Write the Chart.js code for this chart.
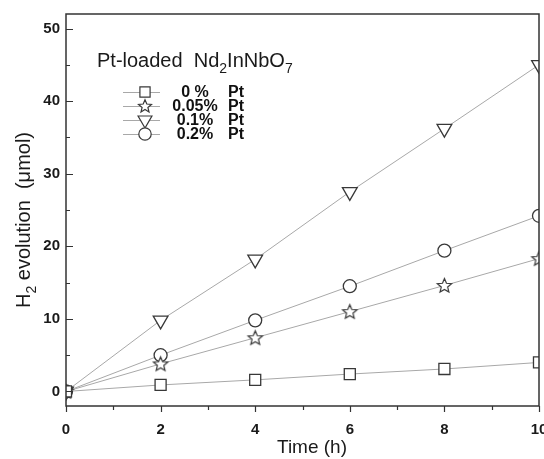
<!DOCTYPE html>
<html>
<head>
<meta charset="utf-8">
<script src="https://cdn.jsdelivr.net/npm/chart.js@4.4.1/dist/chart.umd.min.js"></script>
<style>
  html, body { margin: 0; padding: 0; background: #fff; }
  #wrap { width: 544px; height: 459px; position: relative; }
</style>
</head>
<body>
<div id="wrap"><canvas id="c" width="544" height="459"></canvas></div>
<script>
// ---- data ----
const times = [0, 2, 4, 6, 8, 10];
const pt0   = [0, 0.9, 1.6, 2.4, 3.1, 4.0];
const pt005 = [0, 3.8, 7.4, 11.0, 14.6, 18.3];
const pt01  = [0, 9.8, 18.2, 27.5, 36.2, 45.0];
const pt02  = [0, 5.0, 9.8, 14.5, 19.4, 24.2];
const seriesLabels = ['0 %', '0.05%', '0.1%', '0.2%'];
const xTickValues = [0, 2, 4, 6, 8, 10];
const yTickValues = [0, 10, 20, 30, 40, 50];

const MARK = '#383838';
const LINE = '#a8a8a8';

function starCanvas(R) {
  const s = Math.ceil(R * 2 + 4);
  const c = document.createElement('canvas');
  c.width = s; c.height = s;
  const g = c.getContext('2d');
  const cx = s / 2, cy = s / 2 + 0.5, r = R * 0.45;
  g.beginPath();
  for (let i = 0; i < 10; i++) {
    const a = -Math.PI / 2 + i * Math.PI / 5;
    const rr = i % 2 === 0 ? R : r;
    const px = cx + rr * Math.cos(a), py = cy + rr * Math.sin(a);
    if (i === 0) g.moveTo(px, py); else g.lineTo(px, py);
  }
  g.closePath();
  g.fillStyle = '#fff'; g.fill();
  g.strokeStyle = MARK; g.lineWidth = 1.2; g.stroke();
  return c;
}
const star = starCanvas(7.5);
const starSmall = starCanvas(6.8);

function mk(vals) { return times.map((t, i) => ({ x: t, y: vals[i] })); }
const common = { borderColor: LINE, borderWidth: 1, pointBorderColor: MARK, pointBackgroundColor: '#fff', pointBorderWidth: 1.3, showLine: true, tension: 0, clip: 0 };

const datasets = [
  Object.assign({}, common, { label: seriesLabels[0], data: mk(pt0),   pointStyle: 'rect', pointRadius: 7.8 }),
  Object.assign({}, common, { label: seriesLabels[1], data: mk(pt005), pointStyle: star, pointRadius: 7 }),
  Object.assign({}, common, { label: seriesLabels[2], data: mk(pt01),  pointStyle: 'triangle', pointRotation: 180, pointRadius: 8.5 }),
  Object.assign({}, common, { label: seriesLabels[3], data: mk(pt02),  pointStyle: 'circle', pointRadius: 6.5 })
];

function drawSubText(ctx, parts, x, y, size, weight) {
  let cx = x;
  for (const [t, sub] of parts) {
    const fs = sub ? Math.round(size * 0.72) : size;
    ctx.font = weight + ' ' + fs + 'px "Liberation Sans", Arial, sans-serif';
    ctx.fillText(t, cx, sub ? y + size * 0.28 : y);
    cx += ctx.measureText(t).width;
  }
  return cx;
}

const clipper = {
  id: 'clipper',
  beforeDatasetsDraw(chart) {
    const a = chart.chartArea, ctx = chart.ctx;
    ctx.save();
    ctx.beginPath();
    ctx.rect(a.left, a.top, a.right - a.left, a.bottom - a.top);
    ctx.clip();
  },
  afterDatasetsDraw(chart) { chart.ctx.restore(); }
};

const decor = {
  id: 'decor',
  afterDraw(chart) {
    const ctx = chart.ctx;
    const a = chart.chartArea;
    const xs = chart.scales.x, ys = chart.scales.y;
    ctx.save();
    // frame
    ctx.strokeStyle = '#333'; ctx.lineWidth = 1.5;
    ctx.strokeRect(a.left, a.top, a.right - a.left, a.bottom - a.top);
    // ticks (major + minor)
    ctx.lineWidth = 1.2;
    ctx.beginPath();
    for (let v = 0; v <= 50; v += 5) {
      const py = Math.round(ys.getPixelForValue(v)) + 0.5;
      const len = v % 10 === 0 ? 7 : 4;
      ctx.moveTo(a.left, py); ctx.lineTo(a.left + len, py);
    }
    for (let v = 0; v <= 10; v += 1) {
      const px = Math.round(xs.getPixelForValue(v)) + 0.5;
      const len = v % 2 === 0 ? 6 : 4;
      ctx.moveTo(px, a.bottom); ctx.lineTo(px, a.bottom + len);
    }
    ctx.stroke();

    // axis titles
    ctx.fillStyle = '#1a1a1a';
    ctx.textBaseline = 'alphabetic';
    ctx.font = '19px "Liberation Sans", Arial, sans-serif';
    ctx.textAlign = 'center';
    ctx.fillText('Time (h)', 312, 453);

    ctx.save();
    ctx.translate(30, 220);
    ctx.rotate(-Math.PI / 2);
    ctx.textAlign = 'left';
    const yparts = [['H', false], ['2', true], [' evolution  (\u03BCmol)', false]];
    let w = 0;
    for (const [t, sub] of yparts) {
      ctx.font = (sub ? 14 : 20) + 'px "Liberation Sans", Arial, sans-serif';
      w += ctx.measureText(t).width;
    }
    drawSubText(ctx, yparts, -w / 2, 0, 20, 'normal');
    ctx.restore();

    // legend title
    ctx.textAlign = 'left';
    drawSubText(ctx, [['Pt-loaded  Nd', false], ['2', true], ['InNbO', false], ['7', true]], 97, 67, 20, 'normal');

    // legend entries
    const rows = [92, 106, 120, 134];
    const styles = [
      { s: 'rect', r: 7.2, rot: 0 },
      { s: starSmall, r: 7, rot: 0 },
      { s: 'triangle', r: 8, rot: 180 },
      { s: 'circle', r: 6.2, rot: 0 }
    ];
    rows.forEach((ry, i) => {
      ctx.strokeStyle = LINE; ctx.lineWidth = 1;
      ctx.beginPath(); ctx.moveTo(123, ry + 0.5); ctx.lineTo(160, ry + 0.5); ctx.stroke();
      ctx.strokeStyle = MARK; ctx.fillStyle = '#fff'; ctx.lineWidth = 1.2;
      Chart.helpers.drawPoint(ctx, { pointStyle: styles[i].s, radius: styles[i].r, rotation: styles[i].rot, borderWidth: 1.2 }, 145, ry);
      ctx.fillStyle = '#111';
      ctx.font = 'bold 16px "Liberation Sans", Arial, sans-serif';
      ctx.textBaseline = 'middle';
      ctx.textAlign = 'center';
      ctx.fillText(seriesLabels[i], 195, ry + 1);
      ctx.textAlign = 'left';
      ctx.fillText('Pt', 228, ry + 1);
    });
    ctx.restore();
  }
};

new Chart(document.getElementById('c'), {
  type: 'scatter',
  data: { datasets },
  options: {
    responsive: false,
    animation: false,
    devicePixelRatio: 1,
    layout: { autoPadding: false, padding: { top: 14, right: 5, left: 0, bottom: 0 } },
    plugins: { legend: { display: false }, tooltip: { enabled: false } },
    scales: {
      x: {
        type: 'linear', min: 0, max: 10,
        grid: { display: false, drawTicks: false },
        border: { display: false },
        ticks: { color: '#1a1a1a', font: { family: '"Liberation Sans", Arial, sans-serif', size: 15, weight: 'bold' }, padding: 15 },
        afterBuildTicks: s => { s.ticks = xTickValues.map(v => ({ value: v })); },
        afterFit: s => { s.height = 53; s.paddingLeft = 0; s.paddingRight = 0; }
      },
      y: {
        type: 'linear', min: -2, max: 52,
        grid: { display: false, drawTicks: false },
        border: { display: false },
        ticks: { color: '#1a1a1a', font: { family: '"Liberation Sans", Arial, sans-serif', size: 15, weight: 'bold' }, padding: 6 },
        afterBuildTicks: s => { s.ticks = yTickValues.map(v => ({ value: v })); },
        afterFit: s => { s.width = 66; s.paddingTop = 0; s.paddingBottom = 0; }
      }
    }
  },
  plugins: [clipper, decor]
});
</script>
</body>
</html>
